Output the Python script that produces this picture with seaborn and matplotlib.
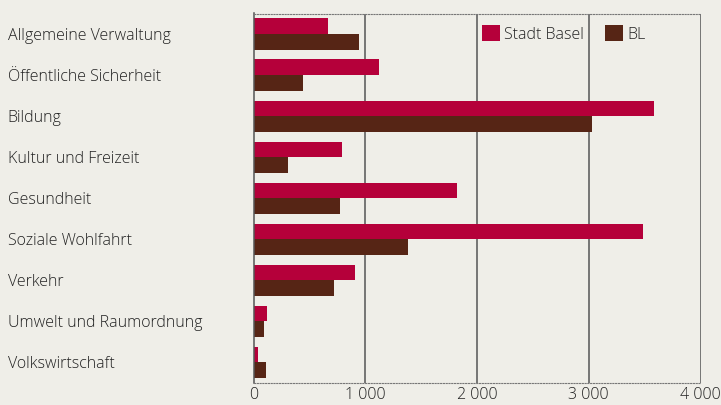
import matplotlib
matplotlib.use("Agg")
import matplotlib.pyplot as plt
import seaborn as sns
import pandas as pd

categories = ["Allgemeine Verwaltung", "Öffentliche Sicherheit", "Bildung",
              "Kultur und Freizeit", "Gesundheit", "Soziale Wohlfahrt",
              "Verkehr", "Umwelt und Raumordnung", "Volkswirtschaft"]
stadt_basel = [667, 1123, 3584, 792, 1821, 3485, 908, 121, 40]
bl = [944, 443, 3029, 309, 774, 1383, 720, 94, 112]
series_names = ["Stadt Basel", "BL"]
xticks = [0, 1000, 2000, 3000, 4000]
xtick_labels = ["0", "1 000", "2 000", "3 000", "4 000"]

df = pd.DataFrame({
    "cat": categories * 2,
    "val": stadt_basel + bl,
    "series": [series_names[0]] * len(categories) + [series_names[1]] * len(categories),
})

bg = "#EFEEE8"
sns.set_theme(style="white")
plt.rcParams["font.family"] = ["Open Sans", "DejaVu Sans"]
plt.rcParams["font.weight"] = "light"

fig = plt.figure(figsize=(7.21, 4.05), dpi=100, facecolor=bg)
ax = fig.add_axes([253.5 / 721, 1 - 383 / 405, (700.5 - 253.5) / 721, (383 - 13.5) / 405])
ax.set_facecolor(bg)

sns.barplot(data=df, y="cat", x="val", hue="series", orient="h",
            palette=["#B5003A", "#562515"], width=0.76, saturation=1,
            ax=ax, edgecolor="none", linewidth=0)

ax.set_xlim(0, 4000)
ax.set_ylim(len(categories) - 0.5, -0.5)
ax.set_xticks(xticks)
ax.set_xticklabels(xtick_labels)
ax.set_xlabel("")
ax.set_ylabel("")
ax.set_axisbelow(True)
for x in [1000, 2000, 3000, 4000]:
    ax.axvline(x, color="#555555", lw=1.1, zorder=0)

ax.spines["right"].set_visible(False)
ax.spines["left"].set_color("#555555")
ax.spines["left"].set_linewidth(1.1)
for s in ["top", "bottom"]:
    ax.spines[s].set_color("#777777")
    ax.spines[s].set_linestyle((0, (1, 1.5)))
    ax.spines[s].set_linewidth(0.8)

txt = "#222222"
ax.tick_params(axis="x", length=0, labelsize=11.5, labelcolor=txt, pad=3)
ax.tick_params(axis="y", length=0, labelsize=11.5, labelcolor=txt, pad=177)
for lbl in ax.get_yticklabels():
    lbl.set_horizontalalignment("left")

ax.legend(loc="upper left", bbox_to_anchor=(0.497, 0.985), ncol=2, frameon=False,
          fontsize=11.5, handlelength=1.15, handleheight=1.15, handletextpad=0.25,
          columnspacing=1.3, labelcolor=txt, borderaxespad=0)

fig.savefig("out.png", dpi=100, facecolor=bg)
